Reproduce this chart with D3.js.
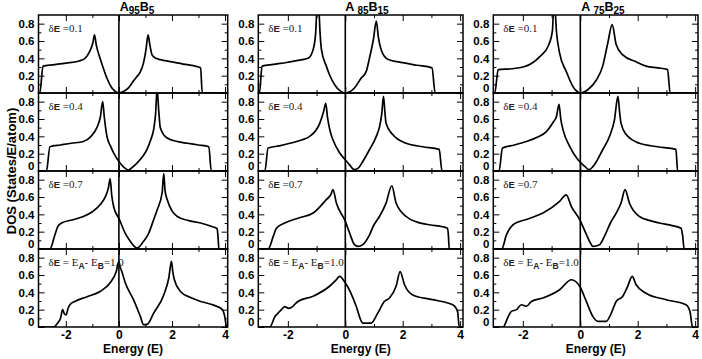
<!DOCTYPE html>
<html>
<head>
<meta charset="utf-8">
<script src="https://cdn.jsdelivr.net/npm/d3@7"></script>
<style>
body { margin: 0; background: #fff; }
svg text { font-family: "Liberation Sans", Arial, sans-serif; }
</style>
</head>
<body>
<div id="chart"></div>
<script>
// axis setup
var energyDomain = [-3.03, 4.1],
    dosDomain = [0, 0.9],
    xMajor = [-2, 0, 2, 4],
    xMinor = [-1, 1, 3],
    yMajor = [0, 0.2, 0.4, 0.6, 0.8],
    yMinor = [0.1, 0.3, 0.5, 0.7];

var concA = ['95', '85', '75'],
    concB = ['5', '15', '25'],
    deltaE = ['0.1', '0.4', '0.7', '1.0'];

// DOS curves, [energy, dos] pairs, one list per deltaE
var dosA95B5 = [
    [[-3.05,0],[-2.98,0],[-2.86,0.31],[-2.5,0.325],[-2.0,0.345],[-1.5,0.37],[-1.28,0.40],[-1.1,0.48],[-0.98,0.58],[-0.92,0.67],[-0.85,0.55],[-0.71,0.40],[-0.58,0.28],[-0.45,0.17],[-0.27,0.06],[-0.12,0.015],[0,0],[0.15,0.015],[0.36,0.06],[0.55,0.14],[0.68,0.19],[0.8,0.24],[0.93,0.35],[1.02,0.5],[1.10,0.67],[1.17,0.55],[1.25,0.44],[1.4,0.40],[1.56,0.385],[2.0,0.36],[2.5,0.33],[3.08,0.29],[3.14,0],[4.1,0]],
    [[-3.05,0],[-2.73,0],[-2.60,0.28],[-2.2,0.30],[-1.8,0.32],[-1.34,0.34],[-1.05,0.40],[-0.83,0.50],[-0.70,0.62],[-0.61,0.80],[-0.55,0.62],[-0.45,0.40],[-0.32,0.29],[-0.20,0.21],[0.05,0.09],[0.2,0.04],[0.36,0.01],[0.5,0.04],[0.68,0.09],[0.9,0.17],[1.06,0.25],[1.2,0.36],[1.31,0.48],[1.38,0.65],[1.44,0.95],[1.50,0.70],[1.56,0.50],[1.82,0.38],[2.2,0.34],[2.58,0.32],[3.0,0.30],[3.39,0.28],[3.48,0],[4.1,0]],
    [[-3.05,0],[-2.60,0],[-2.41,0.165],[-2.3,0.26],[-2.16,0.30],[-1.7,0.34],[-1.34,0.375],[-1.0,0.43],[-0.71,0.51],[-0.5,0.61],[-0.40,0.70],[-0.33,0.81],[-0.27,0.62],[-0.2,0.49],[0.02,0.34],[0.24,0.18],[0.40,0.10],[0.55,0.04],[0.68,0.01],[0.93,0.09],[1.06,0.145],[1.12,0.18],[1.3,0.33],[1.44,0.45],[1.63,0.65],[1.69,0.87],[1.74,0.67],[1.82,0.57],[2.0,0.44],[2.20,0.375],[2.6,0.33],[3.08,0.30],[3.5,0.26],[3.70,0.235],[3.73,0.16],[3.77,0],[4.1,0]],
    [[-3.05,0],[-2.45,0],[-2.3,0.05],[-2.2,0.1],[-2.12,0.20],[-2.05,0.15],[-1.99,0.14],[-1.92,0.21],[-1.84,0.26],[-1.66,0.295],[-1.2,0.35],[-0.71,0.41],[-0.33,0.51],[-0.10,0.64],[0,0.757],[0.04,0.7],[0.11,0.64],[0.24,0.51],[0.55,0.315],[0.81,0.12],[0.93,0.027],[1.06,0.03],[1.31,0.16],[1.69,0.37],[1.88,0.565],[1.98,0.757],[2.03,0.64],[2.09,0.545],[2.32,0.41],[2.7,0.34],[3.08,0.295],[3.5,0.26],[3.90,0.20],[3.99,0.12],[4.06,0],[4.1,0]]
];

var dosA85B15 = [
    [[-3.03,0],[-2.99,0],[-2.90,0.31],[-2.5,0.33],[-2.0,0.355],[-1.5,0.385],[-1.30,0.40],[-1.12,0.50],[-1.03,0.7],[-0.99,0.95],[-0.92,0.95],[-0.88,0.7],[-0.83,0.50],[-0.66,0.31],[-0.55,0.21],[-0.37,0.096],[-0.18,0.025],[0,0],[0.15,0.015],[0.32,0.058],[0.55,0.17],[0.73,0.25],[0.84,0.40],[0.98,0.62],[1.08,0.83],[1.15,0.65],[1.25,0.50],[1.48,0.39],[2.0,0.35],[2.5,0.32],[3.02,0.29],[3.13,0],[4.1,0]],
    [[-3.03,0],[-2.80,0],[-2.69,0.265],[-2.3,0.29],[-1.93,0.32],[-1.5,0.36],[-1.24,0.40],[-0.89,0.55],[-0.76,0.68],[-0.68,0.78],[-0.62,0.62],[-0.52,0.45],[-0.43,0.36],[-0.20,0.21],[0,0.13],[0.15,0.07],[0.32,0.015],[0.44,0.03],[0.61,0.11],[0.84,0.245],[1.08,0.40],[1.2,0.52],[1.27,0.66],[1.33,0.86],[1.38,0.68],[1.42,0.55],[1.65,0.42],[2.12,0.32],[2.7,0.28],[3.27,0.25],[3.37,0],[4.1,0]],
    [[-3.03,0],[-2.69,0],[-2.51,0.145],[-2.40,0.24],[-2.11,0.30],[-1.6,0.36],[-1.12,0.415],[-0.66,0.57],[-0.5,0.63],[-0.43,0.685],[-0.31,0.53],[0,0.32],[0.15,0.185],[0.32,0.05],[0.44,0.03],[0.61,0.05],[0.84,0.16],[1.0,0.28],[1.19,0.375],[1.42,0.53],[1.62,0.73],[1.77,0.53],[2.12,0.375],[2.5,0.31],[2.93,0.28],[3.56,0.24],[3.59,0.165],[3.62,0],[4.1,0]],
    [[-3.03,0],[-2.63,0],[-2.45,0.12],[-2.34,0.16],[-2.2,0.21],[-2.11,0.235],[-1.97,0.215],[-1.88,0.225],[-1.65,0.295],[-1.12,0.355],[-0.55,0.47],[-0.3,0.55],[-0.2,0.585],[0,0.51],[0.38,0.24],[0.56,0.065],[0.61,0.045],[0.90,0.045],[1.13,0.16],[1.36,0.295],[1.54,0.335],[1.77,0.47],[1.91,0.64],[2.06,0.49],[2.35,0.37],[3.04,0.315],[3.74,0.257],[3.91,0.18],[3.97,0],[4.1,0]]
];

var dosA75B25 = [
    [[-3.03,0],[-2.98,0],[-2.86,0.27],[-2.4,0.28],[-1.99,0.30],[-1.7,0.34],[-1.41,0.42],[-1.12,0.54],[-0.97,0.72],[-0.93,0.95],[-0.88,0.95],[-0.83,0.71],[-0.72,0.46],[-0.49,0.25],[-0.26,0.077],[-0.12,0.02],[0,0],[0.27,0.04],[0.56,0.15],[0.78,0.31],[0.96,0.58],[1.11,0.79],[1.25,0.56],[1.48,0.44],[1.94,0.36],[2.29,0.31],[2.7,0.29],[3.04,0.27],[3.13,0],[4.1,0]],
    [[-3.03,0],[-2.83,0],[-2.71,0.265],[-2.3,0.30],[-1.88,0.34],[-1.5,0.39],[-1.18,0.455],[-0.95,0.56],[-0.83,0.63],[-0.74,0.77],[-0.68,0.60],[-0.60,0.475],[-0.37,0.285],[-0.08,0.13],[0.15,0.055],[0.30,0.015],[0.44,0.05],[0.78,0.245],[1.02,0.40],[1.19,0.59],[1.31,0.86],[1.37,0.68],[1.42,0.55],[1.60,0.42],[2.06,0.32],[2.7,0.28],[3.33,0.25],[3.39,0],[4.1,0]],
    [[-3.03,0],[-2.74,0],[-2.57,0.165],[-2.45,0.24],[-2.34,0.28],[-1.8,0.35],[-1.30,0.415],[-0.72,0.55],[-0.49,0.625],[-0.31,0.49],[-0.02,0.34],[0.21,0.17],[0.35,0.07],[0.44,0.03],[0.67,0.05],[0.84,0.145],[1.05,0.30],[1.25,0.415],[1.42,0.53],[1.56,0.685],[1.71,0.53],[2.06,0.375],[2.4,0.33],[2.75,0.30],[3.2,0.27],[3.51,0.24],[3.56,0.165],[3.62,0],[4.1,0]],
    [[-3.03,0],[-2.69,0],[-2.51,0.12],[-2.40,0.18],[-2.22,0.20],[-2.05,0.257],[-1.88,0.24],[-1.70,0.295],[-1.30,0.335],[-0.72,0.43],[-0.31,0.545],[-0.02,0.47],[0.21,0.295],[0.44,0.12],[0.61,0.065],[0.90,0.065],[1.08,0.16],[1.25,0.295],[1.48,0.355],[1.65,0.47],[1.81,0.585],[1.94,0.49],[2.29,0.39],[2.99,0.315],[3.68,0.257],[3.82,0.18],[3.91,0],[4.1,0]]
];

var columns = [dosA95B5, dosA85B15, dosA75B25];

var width = 702, height = 359,
    colRanges = [[38.5, 227.7], [258.3, 463], [493.3, 698]],
    titleX = [137, 367, 603],
    plotTop = 15, rowHeight = 78;

var svg = d3.select('#chart').append('svg')
    .attr('width', width)
    .attr('height', height);

var yFormat = function (d) { return d === 0 ? '0' : d3.format('.1f')(d); };

function styleAxis(g, fontSize) {
    g.select('.domain').remove();
    g.selectAll('line').attr('stroke', '#000').attr('stroke-width', 1);
    g.selectAll('text')
        .attr('fill', '#000')
        .style('font-size', fontSize + 'px')
        .style('font-weight', 'bold');
}

var line = d3.line().curve(d3.curveMonotoneX);

columns.forEach(function (panels, c) {
    var x = d3.scaleLinear().domain(energyDomain).range(colRanges[c]),
        x0 = colRanges[c][0], x1 = colRanges[c][1];

    // column title A_xB_y
    var title = svg.append('text')
        .attr('x', titleX[c]).attr('y', 11)
        .attr('text-anchor', 'middle')
        .style('font-size', '12.5px').style('font-weight', 'bold');
    title.append('tspan').text(c === 0 ? 'A' : 'A ');
    title.append('tspan').attr('dy', 3).style('font-size', '10px').text(concA[c]);
    title.append('tspan').attr('dy', -3).text('B');
    title.append('tspan').attr('dy', 3).style('font-size', '10px').text(concB[c]);

    panels.forEach(function (data, r) {
        var yTop = plotTop + r * rowHeight,
            yBot = yTop + rowHeight,
            y = d3.scaleLinear().domain(dosDomain).range([yBot, yTop]),
            clipId = 'clip-' + c + '-' + r,
            g = svg.append('g');

        svg.append('clipPath').attr('id', clipId)
            .append('rect')
            .attr('x', x0).attr('y', yTop)
            .attr('width', x1 - x0).attr('height', rowHeight);

        // inward ticks on all four sides
        var left = g.append('g').attr('transform', 'translate(' + x0 + ',0)')
            .call(d3.axisLeft(y).tickValues(yMajor).tickSize(-6).tickPadding(4).tickFormat(yFormat))
            .call(styleAxis, 11.5);
        // the 0 label sits a little high so it clears the 0.8 below
        left.selectAll('.tick').filter(function (d) { return d === 0; })
            .select('text').attr('dy', '-0.1em');
        g.append('g').attr('transform', 'translate(' + x0 + ',0)')
            .call(d3.axisLeft(y).tickValues(yMinor).tickSize(-3).tickFormat(''))
            .call(styleAxis, 12);
        g.append('g').attr('transform', 'translate(' + x1 + ',0)')
            .call(d3.axisRight(y).tickValues(yMajor).tickSize(-6).tickFormat(''))
            .call(styleAxis, 12);
        g.append('g').attr('transform', 'translate(' + x1 + ',0)')
            .call(d3.axisRight(y).tickValues(yMinor).tickSize(-3).tickFormat(''))
            .call(styleAxis, 12);
        g.append('g').attr('transform', 'translate(0,' + yTop + ')')
            .call(d3.axisTop(x).tickValues(xMajor).tickSize(-6).tickFormat(''))
            .call(styleAxis, 12);
        g.append('g').attr('transform', 'translate(0,' + yTop + ')')
            .call(d3.axisTop(x).tickValues(xMinor).tickSize(-3).tickFormat(''))
            .call(styleAxis, 12);
        g.append('g').attr('transform', 'translate(0,' + yBot + ')')
            .call(d3.axisBottom(x).tickValues(xMajor).tickSize(-6).tickPadding(3)
                .tickFormat(r === panels.length - 1 ? function (d) { return String(d); } : ''))
            .call(styleAxis, 12);
        g.append('g').attr('transform', 'translate(0,' + yBot + ')')
            .call(d3.axisBottom(x).tickValues(xMinor).tickSize(-3).tickFormat(''))
            .call(styleAxis, 12);

        // E = 0 line
        g.append('line')
            .attr('x1', x(0)).attr('x2', x(0))
            .attr('y1', yTop).attr('y2', yBot)
            .attr('stroke', '#000').attr('stroke-width', 1.6);

        g.append('path')
            .datum(data)
            .attr('clip-path', 'url(#' + clipId + ')')
            .attr('fill', 'none')
            .attr('stroke', '#000')
            .attr('stroke-width', 1.7)
            .attr('stroke-linejoin', 'round')
            .attr('d', line
                .x(function (d) { return x(d[0]); })
                .y(function (d) { return y(d[1]); }));

        g.append('rect')
            .attr('x', x0).attr('y', yTop)
            .attr('width', x1 - x0).attr('height', rowHeight)
            .attr('fill', 'none').attr('stroke', '#000').attr('stroke-width', 1.5);

        // deltaE annotation
        var note = g.append('text')
            .attr('x', x0 + 10).attr('y', yTop + 17)
            .attr('fill', '#222')
            .style('font-size', '11px');
        note.append('tspan').style('font-family', '"Liberation Serif", serif').text('\u03b4');
        note.append('tspan').style('font-weight', 'bold').style('font-size', '9.5px').text('E');
        if (r < panels.length - 1) {
            note.append('tspan').style('font-family', '"Liberation Serif", serif').text(' =' + deltaE[r]);
        } else {
            note.append('tspan').style('font-family', '"Liberation Serif", serif').text(' = E');
            note.append('tspan').attr('dy', 3).style('font-weight', 'bold').style('font-size', '8.5px').text('A');
            note.append('tspan').attr('dy', -3).style('font-family', '"Liberation Serif", serif').text('- E');
            note.append('tspan').attr('dy', 3).style('font-weight', 'bold').style('font-size', '8.5px').text('B');
            note.append('tspan').attr('dy', -3).style('font-family', '"Liberation Serif", serif').text('=' + deltaE[r]);
        }
    });

    svg.append('text')
        .attr('x', (x0 + x1) / 2).attr('y', 353)
        .attr('text-anchor', 'middle')
        .style('font-size', '12px').style('font-weight', 'bold')
        .text('Energy (E)');
});

svg.append('text')
    .attr('transform', 'translate(11,' + (plotTop + 2 * rowHeight) + ') rotate(-90)')
    .attr('dy', '0.35em')
    .attr('text-anchor', 'middle')
    .style('font-size', '13px').style('font-weight', 'bold')
    .text('DOS (States/E/atom)');
</script>
</body>
</html>
